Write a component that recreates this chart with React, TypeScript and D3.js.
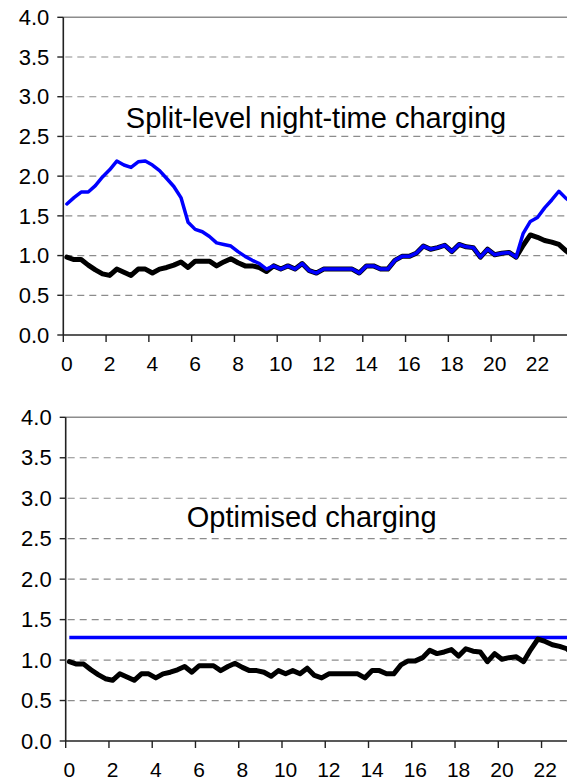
import * as d3 from "d3";

// 20-minute slots over the day (72 per day), ticks every 2 hours
const tickLabels = ["0", "2", "4", "6", "8", "10", "12", "14", "16", "18", "20", "22"];
const yTicks = [0, 0.5, 1.0, 1.5, 2.0, 2.5, 3.0, 3.5, 4.0];

// base demand (black line)
const baseLoad = [
  0.98, 0.95, 0.95, 0.88, 0.82, 0.77, 0.75, 0.83, 0.79, 0.75, 0.83, 0.83,
  0.78, 0.83, 0.85, 0.88, 0.92, 0.85, 0.93, 0.93, 0.93, 0.87, 0.92, 0.96,
  0.91, 0.87, 0.87, 0.85, 0.80, 0.87, 0.83, 0.87, 0.83, 0.90, 0.81, 0.78,
  0.83, 0.83, 0.83, 0.83, 0.83, 0.78, 0.87, 0.87, 0.83, 0.83, 0.94, 0.99,
  0.99, 1.03, 1.12, 1.08, 1.10, 1.13, 1.05, 1.14, 1.11, 1.10, 0.98, 1.08,
  1.01, 1.03, 1.04, 0.98, 1.13, 1.26, 1.23, 1.19, 1.17, 1.14, 1.06, 0.99
];

// demand with split-level night-time charging (blue line)
const splitLevel = [
  1.65, 1.73, 1.80, 1.80, 1.88, 1.99, 2.08, 2.19, 2.14, 2.11, 2.18, 2.19,
  2.14, 2.07, 1.97, 1.87, 1.73, 1.42, 1.33, 1.30, 1.24, 1.16, 1.14, 1.12,
  1.05, 0.99, 0.94, 0.90, 0.83, 0.87, 0.83, 0.87, 0.83, 0.90, 0.81, 0.78,
  0.83, 0.83, 0.83, 0.83, 0.83, 0.78, 0.87, 0.87, 0.83, 0.83, 0.94, 0.99,
  0.99, 1.03, 1.12, 1.08, 1.10, 1.13, 1.05, 1.14, 1.11, 1.10, 0.98, 1.08,
  1.01, 1.03, 1.04, 0.98, 1.28, 1.43, 1.48, 1.60, 1.70, 1.81, 1.72, 1.66
];

// flat optimised charging level (blue line, lower chart)
const optimisedLevel = 1.28;

const font = "Arial, 'Liberation Sans', sans-serif";

function Panel({ left, width, top, bottom, title, titleX, titleY, children }) {
  const x = d3.scaleBand<number>()
    .domain(d3.range(baseLoad.length))
    .range([left, left + width])
    .padding(0);
  const y = d3.scaleLinear().domain([0, 4]).range([bottom, top]);
  const cx = (i: number) => (x(i) as number) + x.bandwidth() / 2;
  const line = d3.line<number>()
    .x((d, i) => cx(i))
    .y(d => y(d));
  const right = left + width;

  return (
    <g>
      {/* grid */}
      {yTicks.filter(t => t > 0 && t < 4).map(t => (
        <line key={t} x1={left + 2} x2={right} y1={y(t)} y2={y(t)}
          stroke="#8c8c8c" strokeWidth={1.2} strokeDasharray="7,5" />
      ))}
      <line x1={left} x2={right} y1={y(4)} y2={y(4)} stroke="#8c8c8c" strokeWidth={1.5} />

      {/* title */}
      <text x={titleX} y={titleY} textAnchor="middle" fontFamily={font} fontSize={29}>{title}</text>

      {/* series */}
      {children({ x, y, cx, line })}

      {/* axes */}
      <line x1={left} x2={left} y1={y(0)} y2={y(4)} stroke="#222" strokeWidth={1.6} />
      <line x1={left} x2={right} y1={y(0)} y2={y(0)} stroke="#222" strokeWidth={1.6} />
      {yTicks.map(t => (
        <g key={t}>
          <line x1={left - 6} x2={left} y1={y(t)} y2={y(t)} stroke="#222" strokeWidth={1.4} />
          <text x={left - 14} y={y(t)} dy="0.35em" textAnchor="end" fontFamily={font} fontSize={22}>
            {t.toFixed(1)}
          </text>
        </g>
      ))}
      {tickLabels.map((lab, k) => (
        <g key={lab}>
          <line x1={x(k * 6)} x2={x(k * 6)} y1={y(0)} y2={y(0) + 7} stroke="#222" strokeWidth={1.4} />
          <text x={cx(k * 6)} y={y(0) + 36} textAnchor="middle" fontFamily={font} fontSize={21}>{lab}</text>
        </g>
      ))}
    </g>
  );
}

export default function App() {
  return (
    <div style={{ position: "absolute", left: 0, top: 0 }}>
      <svg width={567} height={781} style={{ display: "block", background: "#fff" }}>
        <Panel left={63.3} width={513.4} top={17.3} bottom={335}
          title="Split-level night-time charging" titleX={316} titleY={127.5}>
          {({ line }) => (
            <g fill="none" strokeLinejoin="round" strokeLinecap="round">
              <path d={line(baseLoad)} stroke="#000" strokeWidth={5} />
              <path d={line(splitLevel)} stroke="#0000ff" strokeWidth={3.5} />
            </g>
          )}
        </Panel>
        <Panel left={65.7} width={519.1} top={417.3} bottom={741}
          title="Optimised charging" titleX={311.7} titleY={526.5}>
          {({ y, cx, line }) => (
            <g fill="none" strokeLinejoin="round" strokeLinecap="round">
              <line x1={cx(0)} x2={cx(baseLoad.length - 1)} y1={y(optimisedLevel)} y2={y(optimisedLevel)}
                stroke="#0000ff" strokeWidth={3.5} strokeLinecap="butt" />
              <path d={line(baseLoad)} stroke="#000" strokeWidth={5} />
            </g>
          )}
        </Panel>
      </svg>
    </div>
  );
}
